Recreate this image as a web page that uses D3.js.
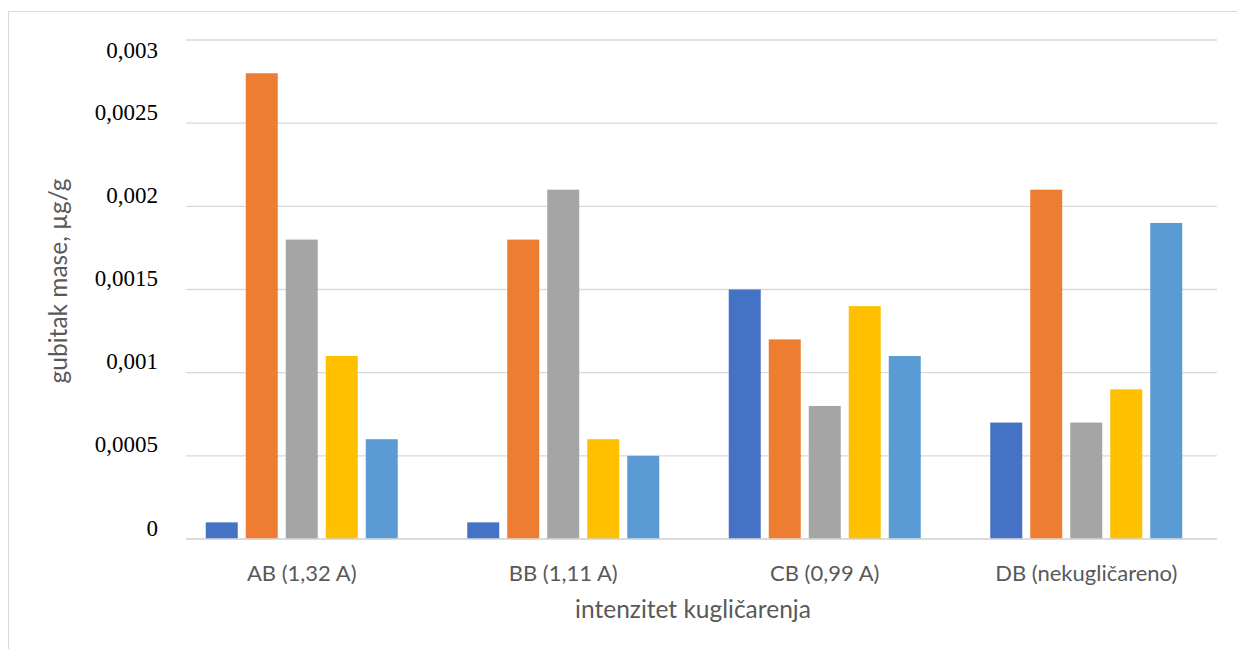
<!DOCTYPE html>
<html>
<head>
<meta charset="utf-8">
<script src="https://cdn.jsdelivr.net/npm/d3@7"></script>
<style>
  body { margin: 0; background: #fff; }
  svg { display: block; }
</style>
</head>
<body>
<svg id="chart" width="1237" height="649"></svg>
<script>
// categories and series
const categories = ["AB (1,32 A)", "BB (1,11 A)", "CB (0,99 A)", "DB (nekugličareno)"]
const seriesNames = ["s1", "s2", "s3", "s4", "s5"]
const seriesColors = ["#4472C4", "#ED7D31", "#A5A5A5", "#FFC000", "#5B9BD5"]

// one array per category, values in series order
const valuesAB = [0.0001, 0.0028, 0.0018, 0.0011, 0.0006]
const valuesBB = [0.0001, 0.0018, 0.0021, 0.0006, 0.0005]
const valuesCB = [0.0015, 0.0012, 0.0008, 0.0014, 0.0011]
const valuesDB = [0.0007, 0.0021, 0.0007, 0.0009, 0.0019]

const yTicks = [0, 0.0005, 0.001, 0.0015, 0.002, 0.0025, 0.003]
const yTickLabels = ["0", "0,0005", "0,001", "0,0015", "0,002", "0,0025", "0,003"]

const xTitle = "intenzitet kugličarenja"
const yTitle = "gubitak mase, µg/g"

const table = categories.map((c, i) => ({
  cat: c,
  vals: [valuesAB, valuesBB, valuesCB, valuesDB][i]
}))

const svg = d3.select("#chart")
const gridLeft = 186, plotRight = 1217

// chart border
svg.append("rect")
  .attr("x", 8.5).attr("y", 11.5)
  .attr("width", 1250).attr("height", 660)
  .attr("fill", "none").attr("stroke", "#d9d9d9").attr("stroke-width", 1)

const x0 = d3.scaleBand().domain(categories).range([171, plotRight])
const x1 = d3.scaleBand().domain(seriesNames).range([0, 192]).paddingInner(0.2)
const y = d3.scaleLinear().domain([0, 0.003]).range([539, 40])

//gridlines
svg.append("g").selectAll("line").data(yTicks).enter().append("line")
  .attr("x1", gridLeft).attr("x2", plotRight)
  .attr("y1", d => y(d)).attr("y2", d => y(d))
  .attr("stroke", "#d9d9d9").attr("stroke-width", 1.3)

// y tick labels (excel nudges them up, top one gets clamped)
svg.append("g").selectAll("text").data(yTicks).enter().append("text")
  .attr("x", 158)
  .attr("y", d => Math.max(y(d) - 11.5, 49.5))
  .attr("dy", "0.35em")
  .attr("text-anchor", "end")
  .style("font-family", "'Liberation Serif', 'Times New Roman', serif")
  .style("font-size", "23px")
  .attr("fill", "#000")
  .text((d, i) => yTickLabels[i])

// bars
const groups = svg.append("g").selectAll("g").data(table).enter().append("g")
  .attr("transform", d => `translate(${x0(d.cat) + (x0.bandwidth() - 192) / 2},0)`)

groups.selectAll("rect").data(d => d.vals.map((v, i) => ({ s: seriesNames[i], v: v, i: i })))
  .enter().append("rect")
  .attr("x", d => x1(d.s))
  .attr("width", x1.bandwidth())
  .attr("y", d => y(d.v))
  .attr("height", d => y(0) - y(d.v))
  .attr("fill", d => seriesColors[d.i])

// x axis line on top of bars
svg.append("line")
  .attr("x1", gridLeft).attr("x2", plotRight)
  .attr("y1", y(0)).attr("y2", y(0))
  .attr("stroke", "#d9d9d9").attr("stroke-width", 1.3)

// category labels
const sans = "Lato, 'Open Sans', sans-serif"
svg.append("g").selectAll("text").data(categories).enter().append("text")
  .attr("x", d => x0(d) + x0.bandwidth() / 2)
  .attr("y", 573)
  .attr("dy", "0.35em")
  .attr("text-anchor", "middle")
  .style("font-family", sans)
  .style("font-size", "22px")
  .attr("fill", "#595959")
  .text(d => d)

// axis titles
svg.append("text")
  .attr("x", 693).attr("y", 609)
  .attr("dy", "0.35em")
  .attr("text-anchor", "middle")
  .style("font-family", sans)
  .style("font-size", "24.5px")
  .attr("fill", "#595959")
  .text(xTitle)

svg.append("text")
  .attr("transform", "translate(58,281) rotate(-90)")
  .attr("dy", "0.35em")
  .attr("text-anchor", "middle")
  .style("font-family", sans)
  .style("font-size", "24.5px")
  .attr("fill", "#595959")
  .text(yTitle)
</script>
</body>
</html>
